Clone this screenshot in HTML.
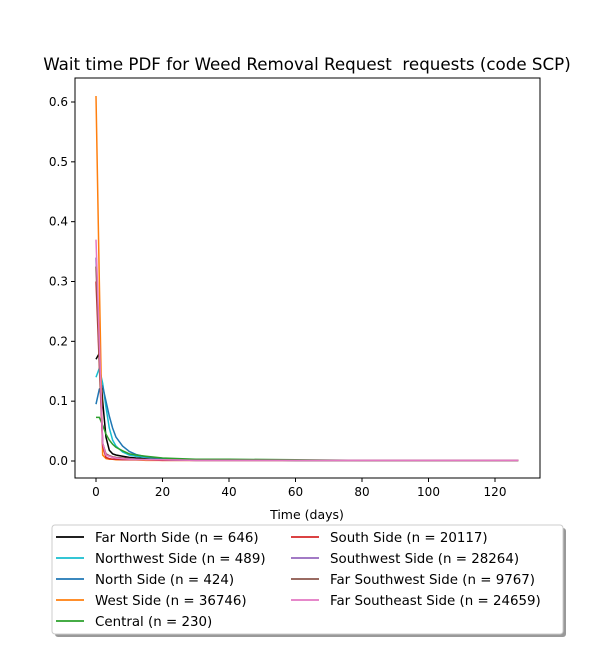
<!DOCTYPE html>
<html><head><meta charset="utf-8"><style>
body{margin:0;background:#fff;font-family:"Liberation Sans","DejaVu Sans",sans-serif;}
svg text{font-family:"DejaVu Sans","Liberation Sans",sans-serif;white-space:pre;}
</style></head><body>
<svg id="chart" width="600" height="650"></svg>
<script>
const days=[0,1,2,3,4,5,6,8,10,12,15,20,30,40,60,80,100,127];
const seriesNames=["Far North Side (n = 646)","Northwest Side (n = 489)","North Side (n = 424)","West Side (n = 36746)","Central (n = 230)","South Side (n = 20117)","Southwest Side (n = 28264)","Far Southwest Side (n = 9767)","Far Southeast Side (n = 24659)"];
const colors=["#000000","#17becf","#1f77b4","#ff7f0e","#2ca02c","#d62728","#9467bd","#8c564b","#e377c2"];
const farNorth=[0.17,0.18,0.10,0.04,0.018,0.012,0.01,0.008,0.006,0.005,0.004,0.003,0.002,0.002,0.001,0.001,0.001,0.001];
const northwest=[0.14,0.155,0.13,0.09,0.055,0.035,0.025,0.015,0.01,0.008,0.006,0.004,0.002,0.002,0.001,0.001,0.001,0.001];
const north=[0.095,0.12,0.125,0.10,0.075,0.055,0.04,0.025,0.016,0.011,0.007,0.004,0.002,0.002,0.001,0.001,0.001,0.001];
const west=[0.61,0.30,0.01,0.004,0.003,0.003,0.002,0.002,0.002,0.002,0.001,0.001,0.001,0.001,0.001,0.001,0.001,0.001];
const central=[0.073,0.073,0.06,0.045,0.035,0.028,0.023,0.017,0.012,0.01,0.008,0.005,0.003,0.003,0.002,0.001,0.001,0.001];
const south=[0.30,0.16,0.025,0.006,0.004,0.003,0.003,0.002,0.002,0.002,0.002,0.001,0.001,0.001,0.001,0.001,0.001,0.001];
const southwest=[0.34,0.19,0.03,0.01,0.008,0.006,0.005,0.004,0.004,0.003,0.003,0.002,0.001,0.001,0.001,0.001,0.001,0.001];
const farSouthwest=[0.325,0.17,0.03,0.012,0.009,0.007,0.006,0.005,0.004,0.003,0.003,0.002,0.001,0.001,0.001,0.001,0.001,0.001];
const farSoutheast=[0.37,0.20,0.03,0.01,0.008,0.006,0.005,0.004,0.003,0.003,0.002,0.002,0.001,0.001,0.001,0.001,0.001,0.001];
const allSeries=[farNorth,northwest,north,west,central,south,southwest,farSouthwest,farSoutheast];
const xTicks=[0,20,40,60,80,100,120];
const yTicks=[0.0,0.1,0.2,0.3,0.4,0.5,0.6];

const NS="http://www.w3.org/2000/svg";
const svg=document.getElementById('chart');
const L=75,R=540,T=78,B=478;
const xs=d=>96+d*(495-96)/120;
const ys=v=>461-v*(461-102)/0.6;
function mk(tag,attrs,parent){const e=document.createElementNS(NS,tag);for(const k in attrs)e.setAttribute(k,attrs[k]);(parent||svg).appendChild(e);return e;}

const title=mk('text',{x:307,y:70,'text-anchor':'middle','font-size':16.7,fill:'#000'});
title.textContent="Wait time PDF for Weed Removal Request  requests (code SCP)";



const g=mk('g',{});


allSeries.forEach((s,i)=>{
  const p=mk('polyline',{points:s.map((v,j)=>xs(days[j])+','+ys(v)).join(' '),fill:'none',stroke:colors[i],'stroke-width':1.5},g);
  
  
});
const frame=mk('rect',{x:L,y:T,width:R-L,height:B-T,fill:'none',stroke:'#000','stroke-width':1});



xTicks.forEach(t=>{
  mk('line',{x1:xs(t),x2:xs(t),y1:B,y2:B+4,stroke:'#000'});
  const tx=mk('text',{x:xs(t),y:B+18,'text-anchor':'middle','font-size':12});
  tx.textContent=t;
  
  
});
yTicks.forEach(t=>{
  mk('line',{x1:L-4,x2:L,y1:ys(t),y2:ys(t),stroke:'#000'});
  const tx=mk('text',{x:L-7,y:ys(t)+4,'text-anchor':'end','font-size':12});
  tx.textContent=t.toFixed(1);
  
  
});
const xl=mk('text',{x:307,y:519,'text-anchor':'middle','font-size':12.5});
xl.textContent="Time (days)";



const lg=mk('g',{});


mk('rect',{x:55,y:528,width:511,height:109,rx:3,fill:'#999'},lg);
mk('rect',{x:52,y:525,width:511,height:109,rx:3,fill:'#fff',stroke:'#ccc'},lg);
seriesNames.forEach((n,i)=>{
  const col=i<5?0:1, row=i<5?i:i-5;
  const x0=col?291:56, y0=537+row*21;
  mk('line',{x1:x0,x2:x0+28,y1:y0,y2:y0,stroke:colors[i],'stroke-width':1.8},lg);
  const tx=mk('text',{x:x0+39,y:y0+5,'font-size':13.4},lg);
  tx.textContent=n;
  
  
});
</script>
</body></html>
